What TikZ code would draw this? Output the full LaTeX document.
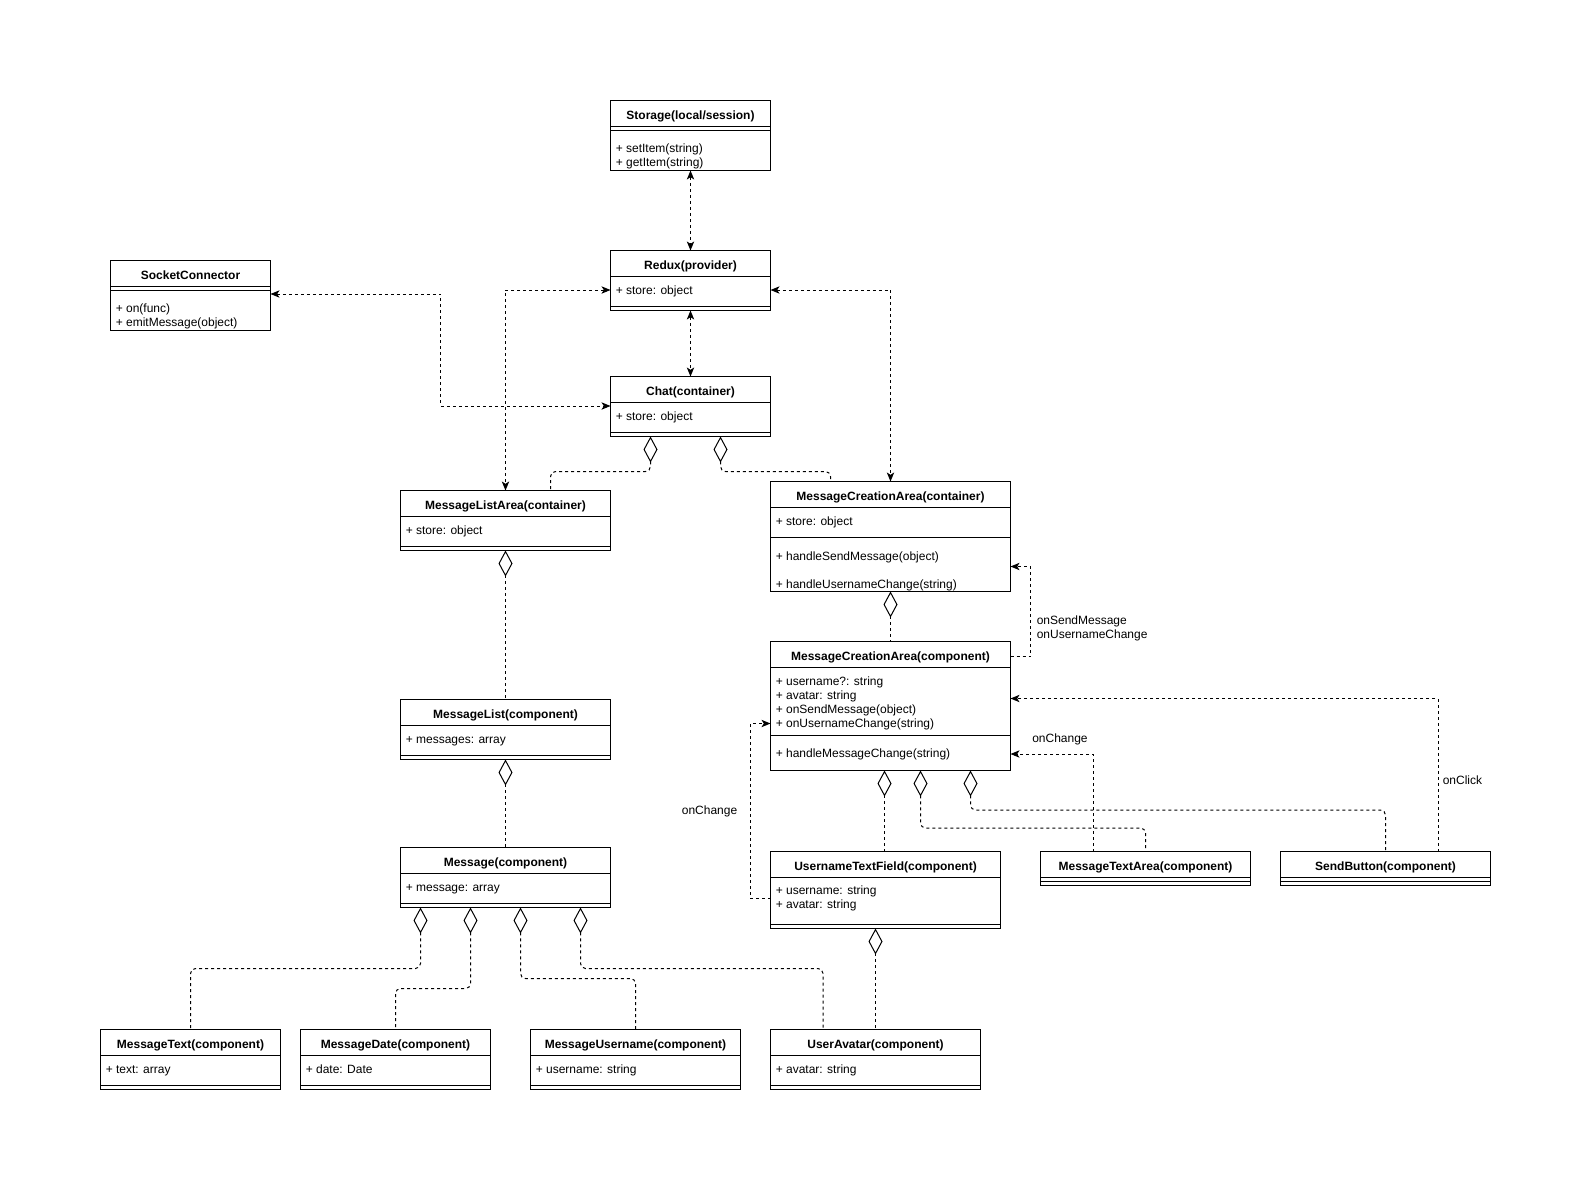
\documentclass[tikz,border=0pt]{standalone}
\usepackage{fontspec}
\setmainfont{Liberation Sans}
\usetikzlibrary{arrows.meta,calc,fit}
\newcommand{\umlbox}[5]{\node[box, fit={(#2,#3) (#4,#5)}] (#1) {};}
\newcommand{\hsep}[2]{\draw[sepl] ($(#1.north west)+(0,#2)$) -- ($(#1.north east)+(0,#2)$);}
\newcommand{\umltitle}[2]{\node[hdr] (#1-t) at ($(#1.north)+(0,18.5)$) {#2};}
\newcommand{\umlattr}[4]{\node[attr] (#1-#2) at ($(#1.north west)+(5,#3)$) {#4};}
\begin{document}
\begin{tikzpicture}[x=0.75pt,y=-0.75pt,
  font=\fontsize{9pt}{10.5pt}\selectfont,
  box/.style={draw, line width=0.75pt, fill=white, inner sep=0pt, outer sep=0pt},
  sepl/.style={line width=0.75pt},
  hdr/.style={font=\fontsize{9pt}{10.5pt}\selectfont\bfseries, inner sep=0pt, anchor=base},
  attr/.style={inner sep=0pt, anchor=base west},
  lbl/.style={inner sep=0pt},
  conn/.style={line width=0.75pt, dash pattern=on 2.25pt off 2.25pt},
  dep/.style={conn, {Stealth[length=6.75pt,width=5.5pt,inset=1.75pt]}-{Stealth[length=6.75pt,width=5.5pt,inset=1.75pt]}},
  flow/.style={conn, -{Stealth[length=6.75pt,width=5.5pt,inset=1.75pt]}},
  agg/.style={conn, rounded corners=3.75pt, {Diamond[fill=white,length=19.5pt,width=10.5pt]}-}
]
\fill[white] (0,0) rectangle (1591,1189);
\useasboundingbox (0,0) rectangle (1591,1189);

% ---------- boxes ----------
\umlbox{storage}{610.5}{100.5}{770.5}{170.5}
\umlbox{redux}{610.5}{250.5}{770.5}{310.5}
\umlbox{socket}{110.5}{260.5}{270.5}{330.5}
\umlbox{chat}{610.5}{376.5}{770.5}{436.5}
\umlbox{mla}{400.5}{490.5}{610.5}{550.5}
\umlbox{mcac}{770.5}{481.5}{1010.5}{591.5}
\umlbox{mcap}{770.5}{641.5}{1010.5}{770.5}
\umlbox{mlist}{400.5}{699.5}{610.5}{759.5}
\umlbox{msg}{400.5}{847.5}{610.5}{907.5}
\umlbox{utf}{770.5}{851.5}{1000.5}{928.5}
\umlbox{mta}{1040.5}{851.5}{1250.5}{885.5}
\umlbox{sendbtn}{1280.5}{851.5}{1490.5}{885.5}
\umlbox{mtext}{100.5}{1029.5}{280.5}{1089.5}
\umlbox{mdate}{300.5}{1029.5}{490.5}{1089.5}
\umlbox{muser}{530.5}{1029.5}{740.5}{1089.5}
\umlbox{uavatar}{770.5}{1029.5}{980.5}{1089.5}

% ---------- separators ----------
\hsep{storage}{26}\hsep{storage}{30}
\hsep{redux}{26}\hsep{redux}{56}
\hsep{socket}{26}\hsep{socket}{30}
\hsep{chat}{26}\hsep{chat}{56}
\hsep{mla}{26}\hsep{mla}{56}
\hsep{mcac}{26}\hsep{mcac}{56}
\hsep{mcap}{26}\hsep{mcap}{94}
\hsep{mlist}{26}\hsep{mlist}{56}
\hsep{msg}{26}\hsep{msg}{56}
\hsep{utf}{26}\hsep{utf}{73}
\hsep{mta}{26}\hsep{mta}{30}
\hsep{sendbtn}{26}\hsep{sendbtn}{30}
\hsep{mtext}{26}\hsep{mtext}{56}
\hsep{mdate}{26}\hsep{mdate}{56}
\hsep{muser}{26}\hsep{muser}{56}
\hsep{uavatar}{26}\hsep{uavatar}{56}

% ---------- titles ----------
\umltitle{storage}{Storage(local/session)}
\umltitle{redux}{Redux(provider)}
\umltitle{socket}{SocketConnector}
\umltitle{chat}{Chat(container)}
\umltitle{mla}{MessageListArea(container)}
\umltitle{mcac}{MessageCreationArea(container)}
\umltitle{mcap}{MessageCreationArea(component)}
\umltitle{mlist}{MessageList(component)}
\umltitle{msg}{Message(component)}
\umltitle{utf}{UsernameTextField(component)}
\umltitle{mta}{MessageTextArea(component)}
\umltitle{sendbtn}{SendButton(component)}
\umltitle{mtext}{MessageText(component)}
\umltitle{mdate}{MessageDate(component)}
\umltitle{muser}{MessageUsername(component)}
\umltitle{uavatar}{UserAvatar(component)}

% ---------- members ----------
\umlattr{storage}{1}{52}{+ setItem(string)}
\umlattr{storage}{2}{66}{+ getItem(string)}
\umlattr{redux}{1}{44}{+ store: object}
\umlattr{socket}{1}{52}{+ on(func)}
\umlattr{socket}{2}{66}{+ emitMessage(object)}
\umlattr{chat}{1}{44}{+ store: object}
\umlattr{mla}{1}{44}{+ store: object}
\umlattr{mcac}{1}{44}{+ store: object}
\umlattr{mcac}{2}{78.5}{+ handleSendMessage(object)}
\umlattr{mcac}{3}{106.5}{+ handleUsernameChange(string)}
\umlattr{mcap}{1}{43.5}{+ username?: string}
\umlattr{mcap}{2}{57.5}{+ avatar: string}
\umlattr{mcap}{3}{71.5}{+ onSendMessage(object)}
\umlattr{mcap}{4}{85.5}{+ onUsernameChange(string)}
\umlattr{mcap}{5}{116}{+ handleMessageChange(string)}
\umlattr{mlist}{1}{44}{+ messages: array}
\umlattr{msg}{1}{44}{+ message: array}
\umlattr{utf}{1}{43}{+ username: string}
\umlattr{utf}{2}{57}{+ avatar: string}
\umlattr{mtext}{1}{44}{+ text: array}
\umlattr{mdate}{1}{44}{+ date: Date}
\umlattr{muser}{1}{44}{+ username: string}
\umlattr{uavatar}{1}{44}{+ avatar: string}

% ---------- dependencies (both ends) ----------
\draw[dep] (storage.south) -- (redux.north);
\draw[dep] (redux.south) -- (chat.north);
\draw[dep] ($(socket.north east)+(0,33.5)$) -- ++(170,0) |- ($(chat.north west)+(0,29.5)$);
\draw[dep] ($(redux.north west)+(0,39.5)$) -| (mla.north);
\draw[dep] ($(redux.north east)+(0,39.5)$) -| (mcac.north);

% ---------- aggregations ----------
\draw[agg] ($(chat.south west)+(40,0)$) -- ++(0,35) -| ($(mla.north west)+(150,0)$);
\draw[agg] ($(chat.south west)+(110,0)$) -- ++(0,35) -| ($(mcac.north west)+(60,0)$);
\draw[agg] (mla.south) -- (mlist.north);
\draw[agg] (mlist.south) -- (msg.north);
\draw[agg] (mcac.south) -- (mcap.north);
\draw[agg] ($(mcap.south west)+(114,0)$) -- ($(utf.north west)+(114,0)$);
\draw[agg] ($(mcap.south west)+(150,0)$) -- ++(0,57.5) -| (mta.north);
\draw[agg] ($(mcap.south west)+(200,0)$) -- ++(0,39.5) -| (sendbtn.north);
\draw[agg] ($(msg.south west)+(20,0)$) -- ++(0,61) -| (mtext.north);
\draw[agg] ($(msg.south west)+(70,0)$) -- ++(0,81) -| (mdate.north);
\draw[agg] ($(msg.south west)+(120,0)$) -- ++(0,71) -| (muser.north);
\draw[agg] ($(msg.south west)+(180,0)$) -- ++(0,61) -| ($(uavatar.north west)+(52.5,0)$);
\draw[agg] (uavatar.north |- utf.south) -- (uavatar.north);

% ---------- callbacks ----------
\draw[flow] ($(mcap.north east)+(0,15)$) -- ++(20,0) |- ($(mcac.north east)+(0,85)$);
\draw[flow] ($(utf.north west)+(0,46.5)$) -- ++(-20.5,0) |- ($(mcap.north west)+(0,82)$);
\draw[flow] ($(mta.north west)+(53,0)$) |- ($(mcap.north east)+(0,112.5)$);
\draw[flow] ($(sendbtn.north west)+(157.5,0)$) |- ($(mcap.north east)+(0,57)$);

% ---------- labels ----------
\node[lbl, anchor=north west, align=left] (lblsend) at (1036.5,615.5) {onSendMessage\\onUsernameChange};
\node[lbl, anchor=base east] (lblchg1) at (737.5,814.5) {onChange};
\node[lbl, anchor=base west] (lblchg2) at (1032,742.5) {onChange};
\node[lbl, anchor=base west] (lblclick) at (1442.5,784.5) {onClick};
\end{tikzpicture}
\end{document}
